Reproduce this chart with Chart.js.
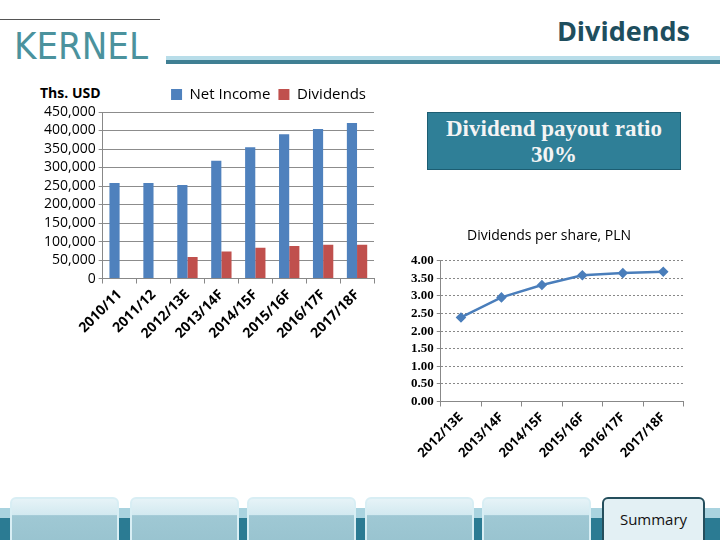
<!DOCTYPE html>
<html>
<head>
<meta charset="utf-8">
<script src="https://cdn.jsdelivr.net/npm/chart.js@4.4.0/dist/chart.umd.min.js"></script>
<style>
  body { margin: 0; width: 720px; height: 540px; background: #fff; position: relative; overflow: hidden; font-family: "Open Sans", sans-serif; }
  .abs { position: absolute; }
  #logoLine { left: 0; top: 19px; width: 160px; height: 1px; background: #555; }
  #logo { left: 14px; top: 24px; font-family: "Liberation Sans Narrow", "DejaVu Sans Condensed", sans-serif; font-size: 38px; color: #4b929d; letter-spacing: 0px; }
  #title { right: 30px; top: 12px; font-size: 27px; font-weight: bold; color: #1e4e5e; }
  #bandTop { left: 166px; top: 56px; width: 554px; height: 4px; background: #b8dde9; }
  #bandBot { left: 166px; top: 60px; width: 554px; height: 4px; background: #3f7f93; }
  #ths { left: 40px; top: 83px; font-size: 14px; font-weight: bold; color: #000; }
  #ratio { left: 427px; top: 112px; width: 254px; height: 58px; background: #2f7f97; border: 1px solid #1c5d72;
           color: #f4f4f4; font-family: "Liberation Serif", serif; font-weight: bold; font-size: 23px; line-height: 26px; text-align: center; padding-top: 3px; box-sizing: border-box; }
  #footLight { left: 0; top: 508px; width: 720px; height: 10px; background: #a9d3df; }
  #footDark { left: 0; top: 518px; width: 720px; height: 22px; background: #2b7b93; }
  .tab { position: absolute; top: 497px; height: 50px; border-radius: 6px; border: 2px solid #d8eef4;
         background: linear-gradient(#e6f3f7 0%, #d2e9f0 35%, #9fc8d4 36%, #98c3cf 100%); box-sizing: border-box; }
  #summary { left: 602px; width: 103px; border: 2px solid #244e5c; background: #e3f0f4; font-size: 15px; text-align: center; padding-top: 10px; color: #111; }
</style>
</head>
<body>
<div class="abs" id="logoLine"></div>
<div class="abs" id="logo">KERNEL</div>
<div class="abs" id="title">Dividends</div>
<div class="abs" id="bandTop"></div>
<div class="abs" id="bandBot"></div>
<div class="abs" id="ths">Ths. USD</div>
<div class="abs" id="ratio">Dividend payout ratio<br>30%</div>

<div class="abs" id="footLight"></div>
<div class="abs" id="footDark"></div>
<div class="tab" style="left:10px;width:109px;"></div>
<div class="tab" style="left:130px;width:109px;"></div>
<div class="tab" style="left:247px;width:109px;"></div>
<div class="tab" style="left:365px;width:109px;"></div>
<div class="tab" style="left:482px;width:109px;"></div>
<div class="tab" id="summary">Summary</div>

<div class="abs" style="left:41px;top:79px;width:339px;height:266px;"><canvas id="barChart"></canvas></div>
<div class="abs" style="left:408px;top:228px;width:282px;height:236px;"><canvas id="lineChart"></canvas></div>

<script>
const years = ["2010/11", "2011/12", "2012/13E", "2013/14F", "2014/15F", "2015/16F", "2016/17F", "2017/18F"];
const netIncome = [258000, 258000, 253000, 318000, 355000, 390000, 404000, 420000];
const dividends = [null, null, 58500, 73000, 83000, 88000, 91000, 91000];

const dpsYears = ["2012/13E", "2013/14F", "2014/15F", "2015/16F", "2016/17F", "2017/18F"];
const dps = [2.39, 2.96, 3.31, 3.59, 3.65, 3.69];

new Chart(document.getElementById("barChart"), {
    type: "bar",
    data: {
        labels: years,
        datasets: [
            { label: "Net Income", data: netIncome, backgroundColor: "#4f81bd" },
            { label: "Dividends", data: dividends, backgroundColor: "#c0504d" }
        ]
    },
    options: {
        responsive: true,
        maintainAspectRatio: false,
        animation: false,
        categoryPercentage: 0.6,
        barPercentage: 1.0,
        layout: { padding: { right: 6 } },
        plugins: {
            legend: {
                position: "top",
                align: "end",
                labels: { boxWidth: 11, boxHeight: 11, padding: 8, color: "#000", font: { family: "Open Sans", size: 15 } }
            },
            tooltip: { enabled: false }
        },
        scales: {
            x: {
                grid: { drawOnChartArea: false, drawTicks: true, tickLength: 5, color: "#888" },
                border: { color: "#888" },
                ticks: { minRotation: 45, maxRotation: 45, autoSkip: false, color: "#000", font: { family: "Open Sans", size: 14, weight: "bold" } }
            },
            y: {
                min: 0, max: 450000,
                grid: { color: "#8c8c8c", tickLength: 4 },
                border: { color: "#888" },
                ticks: {
                    stepSize: 50000, autoSkip: false, color: "#000",
                    font: { family: "Open Sans", size: 14 },
                    callback: function (v) { return v.toLocaleString("en-US"); }
                }
            }
        }
    }
});

new Chart(document.getElementById("lineChart"), {
    type: "line",
    data: {
        labels: dpsYears,
        datasets: [{
            label: "Dividends per share, PLN",
            data: dps,
            borderColor: "#4a7ebb",
            backgroundColor: "#4a7ebb",
            borderWidth: 2.5,
            pointStyle: "rectRot",
            pointRadius: 3.5,
            tension: 0
        }]
    },
    options: {
        responsive: true,
        maintainAspectRatio: false,
        animation: false,
        plugins: {
            legend: { display: false },
            title: { display: true, text: "Dividends per share, PLN", color: "#000", font: { family: "Open Sans", size: 14, weight: "normal" }, padding: { top: 0, bottom: 16 } },
            tooltip: { enabled: false }
        },
        scales: {
            x: {
                offset: true,
                grid: { offset: true, drawOnChartArea: false, drawTicks: true, tickLength: 5, color: "#888" },
                border: { color: "#888" },
                ticks: { minRotation: 45, maxRotation: 45, autoSkip: false, color: "#000", font: { family: "Open Sans", size: 13, weight: "bold" } }
            },
            y: {
                min: 0, max: 4,
                grid: { color: "#888", tickLength: 4 },
                border: { color: "#888", dash: [2, 2] },
                ticks: {
                    stepSize: 0.5, autoSkip: false, color: "#000",
                    font: { family: "Liberation Serif", size: 13, weight: "bold" },
                    callback: function (v) { return v.toFixed(2); }
                }
            }
        }
    }
});
</script>
</body>
</html>
